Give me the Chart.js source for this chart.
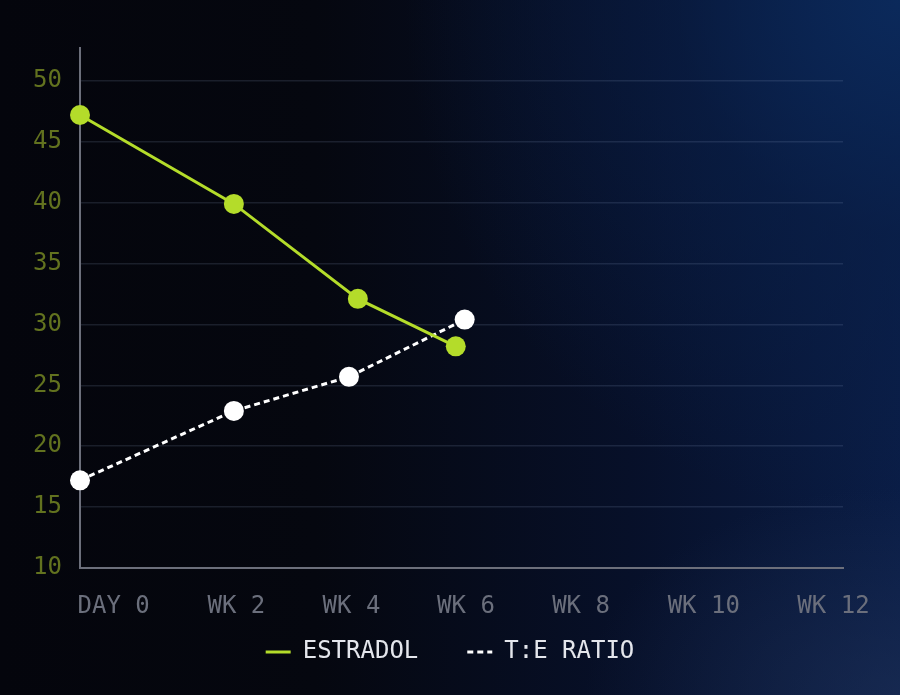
<!DOCTYPE html>
<html>
<head>
<meta charset="utf-8">
<script src="https://cdn.jsdelivr.net/npm/chart.js@4.4.1/dist/chart.umd.min.js"></script>
<style>
html,body{margin:0;padding:0;}
body{
  width:900px;height:695px;overflow:hidden;
  background:
    radial-gradient(ellipse 55% 75% at 100% 0%, rgba(11,42,92,0.95) 0%, rgba(9,32,74,0.55) 45%, rgba(6,10,25,0) 100%),
    radial-gradient(ellipse 35% 30% at 100% 100%, rgba(34,52,90,0.5) 0%, rgba(0,0,0,0) 100%),
    linear-gradient(to right, #04050c 0%, #05070f 35%, #071029 70%, #0a1d46 100%);
}
#wrap{position:relative;width:900px;height:695px;}
</style>
</head>
<body>
<div id="wrap"><canvas id="chart"></canvas></div>
<script>
// Values
const xLabels = ['DAY 0', 'WK 2', 'WK 4', 'WK 6', 'WK 8', 'WK 10', 'WK 12'];
const xLabelWeeks = [0.53, 2.46, 4.27, 6.07, 7.88, 9.81, 11.85];
const yTicks = [10, 15, 20, 25, 30, 35, 40, 45, 50];

const estradolWeeks = [0, 2.42, 4.37, 5.91];
const estradolValues = [47.2, 39.9, 32.1, 28.2];
const ratioWeeks = [0, 2.42, 4.23, 6.05];
const ratioValues = [17.2, 22.9, 25.7, 30.4];

const MONO = "'DejaVu Sans Mono', monospace";
const LIME = '#b4dc2a';
const AXIS = '#6c6f7b';

const toPoints = (xs, ys) => xs.map((x, i) => ({x: x, y: ys[i]}));

// legend swatch = the dataset's line (width + dash), not the point
const legendLabels = chart =>
  Chart.defaults.plugins.legend.labels.generateLabels(chart).map(item => {
    const ds = chart.data.datasets[item.datasetIndex];
    return Object.assign(item, {
      lineWidth: ds.borderWidth, lineDash: ds.borderDash || [],
      strokeStyle: ds.borderColor, pointStyle: 'line'
    });
  });

const ctx = document.getElementById('chart').getContext('2d');
new Chart(ctx, {
  type: 'line',
  data: {
    datasets: [
      {
        label: 'ESTRADOL',
        data: toPoints(estradolWeeks, estradolValues),
        borderColor: LIME, backgroundColor: LIME,
        borderWidth: 3, tension: 0,
        pointRadius: 10, pointHoverRadius: 10, pointBorderWidth: 0,
        pointBackgroundColor: LIME, clip: false
      },
      {
        label: 'T:E RATIO',
        data: toPoints(ratioWeeks, ratioValues),
        borderColor: '#ffffff', backgroundColor: '#ffffff',
        borderWidth: 3, borderDash: [6, 4], tension: 0,
        pointRadius: 10, pointHoverRadius: 10, pointBorderWidth: 0,
        pointBackgroundColor: '#ffffff', clip: false
      }
    ]
  },
  options: {
    responsive: true,
    maintainAspectRatio: false,
    animation: false,
    layout: {padding: {top: 48, right: 0, left: 0, bottom: 21}},
    scales: {
      x: {
        type: 'linear', min: 0, max: 12,
        grid: {display: false, drawTicks: false},
        border: {display: true, color: AXIS, width: 2},
        afterBuildTicks: s => { s.ticks = xLabelWeeks.map(v => ({value: v})); },
        afterFit: s => { s.height = 23; },
        ticks: {
          autoSkip: false, maxRotation: 0,
          mirror: true, padding: -53,   // mirrored so the labels are not clipped to the thin axis box
          color: '#6b6f7c', font: {family: MONO, size: 24},
          callback: (v, i) => xLabels[i]
        }
      },
      y: {
        min: 10, max: 52.7,
        grid: {color: 'rgba(140,160,200,0.16)', lineWidth: 1.5, drawTicks: false},
        border: {display: true, color: AXIS, width: 2},
        afterBuildTicks: s => { s.ticks = yTicks.map(v => ({value: v})); },
        afterFit: s => { s.width = 80; },
        ticks: {
          padding: 18, color: '#62721f', font: {family: MONO, size: 24}
        }
      },
      // empty right-hand gutter, so the legend stays centred on the full width
      gutter: {
        type: 'linear', position: 'right', axis: 'y',
        grid: {display: false, drawTicks: false},
        border: {display: false},
        ticks: {display: false},
        afterFit: s => { s.width = 57; }
      }
    },
    plugins: {
      tooltip: {enabled: false},
      legend: {
        position: 'bottom',
        labels: {
          usePointStyle: true, pointStyle: 'line', pointStyleWidth: 25,
          padding: 49, color: '#e4e6ec', font: {family: MONO, size: 24},
          generateLabels: legendLabels
        }
      }
    }
  }
});
</script>
</body>
</html>
